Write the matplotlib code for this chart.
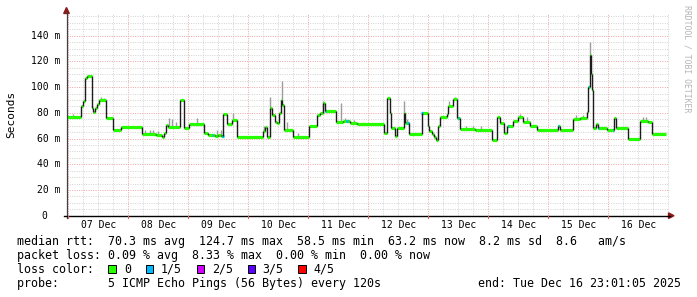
import matplotlib
matplotlib.use("Agg")
import numpy as np
import matplotlib.pyplot as plt
from matplotlib.patches import Polygon, Rectangle
from matplotlib.lines import Line2D

# ---------------- data (hours since 07 Dec 00:00, values in ms) ----------------
seg_hours = [-1.0, 5.2, 6.0, 6.8, 7.6, 9.4, 10.0, 10.8, 11.6, 12.4, 15.2, 18.0, 21.1,
             29.5, 35.2, 37.6, 38.4, 39.1, 40.0, 44.8, 46.4, 48.4, 54.4, 56.0, 58.8,
             60.0, 61.2, 62.0, 63.6, 65.5, 67.6, 77.8, 78.6, 79.5, 80.5, 81.6, 82.8,
             83.6, 84.4, 85.0, 85.6, 86.4, 89.8, 96.1, 99.6, 100.8, 102.0, 102.8,
             107.2, 110.0, 112.8, 115.6, 126.1, 127.4, 128.8, 129.2, 130.6, 131.4,
             134.1, 134.8, 136.1, 141.5, 143.7, 144.4, 145.4, 146.4, 147.0, 147.7,
             148.8, 151.5, 152.0, 154.0, 155.5, 156.6, 162.8, 169.5, 171.5, 172.8,
             174.2, 175.6, 178.0, 180.0, 182.0, 184.8, 187.5, 195.8, 196.6, 201.9,
             204.8, 207.4, 208.0, 208.6, 209.0, 209.4, 210.0, 211.2, 212.0, 215.5,
             218.2, 219.0, 223.7, 228.8, 232.0, 233.5]
seg_median = [77, 85, 89, 107, 109, 84, 81, 84, 87, 90, 76, 67, 69,
              63.5, 63, 61, 64, 70.5, 69, 90, 68.5, 71, 64.5, 63, 62,
              63, 62, 79, 71.5, 74.5, 61, 65.5, 69, 61, 84, 78, 73,
              72, 80, 90, 86, 67, 61.5, 70, 78.5, 80, 88, 81.5,
              73, 73.5, 72, 71.5, 64, 91.5, 80, 68, 62, 68,
              80, 72, 63.5, 80, 69.5, 66, 63.5, 61, 58.5, 69.5,
              77, 79, 85, 91, 76, 67.5, 67, 59, 76.5, 72,
              64, 70, 74, 76.5, 73, 69.5, 67, 70, 67, 75,
              76, 81, 100, 124.7, 110, 98, 68, 71, 68, 67,
              76, 68, 59.5, 73.5, 73, 63.2]
end_hour = 239.0

smoke_hours = [1.8, 13.2, 14.2, 30.5, 32.5, 34.0, 36.0, 40.4, 41.6, 43.0, 51.6, 59.5,
               61.0, 66.0, 78.2, 80.8, 85.3, 87.5, 92.0, 101.9, 109.2, 110.8, 114.4,
               128.2, 134.4, 135.6, 152.4, 154.6, 159.0, 162.0, 165.0, 180.8, 183.6,
               203.0, 206.0, 208.8, 229.8, 231.0]
smoke_top = [79, 92, 91.5, 67, 66.5, 67, 66, 76, 75, 73, 76, 66.5,
             67, 79.5, 70, 92.5, 104.5, 73, 64, 89, 87.5, 76, 74.5,
             92.5, 89, 75, 89, 92.5, 70, 70, 70, 79, 77,
             78, 78.5, 134.8, 77, 76.5]

loss1_hours = [57.6, 61.9, 102.8, 111.5, 135.9, 141.5, 156.0, 176.0, 196.0, 208.0, 212.0, 218.0]

day_labels = ["07 Dec", "08 Dec", "09 Dec", "10 Dec", "11 Dec",
              "12 Dec", "13 Dec", "14 Dec", "15 Dec", "16 Dec"]
y_ticks = [0, 20, 40, 60, 80, 100, 120, 140]
y_tick_labels = ["0", "20 m", "40 m", "60 m", "80 m", "100 m", "120 m", "140 m"]

legend_rtt = "median rtt:  70.3 ms avg  124.7 ms max  58.5 ms min  63.2 ms now  8.2 ms sd  8.6   am/s"
legend_loss = "packet loss: 0.09 % avg  8.33 % max  0.00 % min  0.00 % now"
loss_names = ["0", "1/5", "2/5", "3/5", "4/5"]
loss_colors = ["#26ff00", "#00b8ff", "#d200ff", "#5a00ff", "#ff0000"]
probe_text = "probe:       5 ICMP Echo Pings (56 Bytes) every 120s"
end_text = "end: Tue Dec 16 23:01:05 2025"

# ---------------- layout (pixels) ----------------
W, H = 697, 297
MONO = "DejaVu Sans Mono"
fig = plt.figure(figsize=(W / 100, H / 100), dpi=100)
fig.patch.set_facecolor("white")


def fx(x):
    return x / W


def fy(y):
    return 1 - y / H


AX_L, AX_R, AX_T, AX_B = 66.5, 669.0, 14.0, 215.7
X0, PXH = 68.3, 2.5          # pixel of 07 Dec 00:00, pixels per hour
PXMS = 1.2857                 # pixels per ms
ax = fig.add_axes([fx(AX_L), fy(AX_B), fx(AX_R) - fx(AX_L), fy(AX_T) - fy(AX_B)])
ax.set_xlim((AX_L - X0) / PXH, (AX_R - X0) / PXH)
ax.set_ylim(0, (AX_B - AX_T) / PXMS)
for s in ax.spines.values():
    s.set_visible(False)
ax.set_xticks([])
ax.set_yticks([])
ax.set_facecolor("white")

# grid
dot = (0, (1, 1.4))
MINOR_C = "#d2d2d2"
MAJOR_C = "#eda3a3"
for h in range(6, 241, 6):
    if h % 24 == 0 and h < 240:
        ax.axvline(h, color=MAJOR_C, lw=0.7, ls=dot, zorder=1)
    else:
        ax.axvline(h, color=MINOR_C, lw=0.7, ls=dot, zorder=1)
ax.axvline(0, color=MAJOR_C, lw=0.7, ls=dot, zorder=1)
for v in range(5, 156, 5):
    if v % 20 == 0:
        ax.axhline(v, color=MAJOR_C, lw=0.7, ls=dot, zorder=1)
    else:
        ax.axhline(v, color=MINOR_C, lw=0.7, ls=dot, zorder=1)

# data
starts = np.array(seg_hours)
vals = np.array(seg_median)
ends = np.append(starts[1:], end_hour)


def median_at(h):
    i = np.searchsorted(starts, h, side="right") - 1
    return vals[np.clip(i, 0, len(vals) - 1)]


sh = np.array(smoke_hours)
ax.vlines(sh, median_at(sh), smoke_top, color="#9c9c9c", lw=1.0, zorder=2)
ax.hlines(vals, starts, ends, color="#26ff00", lw=2.3, zorder=4)
ax.vlines(starts[1:], vals[:-1], vals[1:], color="#1c1c1c", lw=1.0, zorder=5)
lh = np.array(loss1_hours)
ax.hlines(median_at(lh), lh - 0.3, lh + 0.3, color="#00b8ff", lw=2.3, zorder=4.5)

# axes lines and arrows (figure pixel coords)
axis_col = "#404040"
arrow_col = "#8b1a1a"
fig.add_artist(Line2D([fx(AX_L), fx(AX_L)], [fy(AX_B + 2), fy(12)], color=axis_col, lw=0.9))
fig.add_artist(Line2D([fx(AX_L - 3), fx(670)], [fy(AX_B), fy(AX_B)], color="#000000", lw=1.0))
fig.add_artist(Polygon([[fx(AX_L - 2.8), fy(13.5)], [fx(AX_L + 2.8), fy(13.5)], [fx(AX_L), fy(7.5)]],
                       closed=True, color=arrow_col, transform=fig.transFigure))
fig.add_artist(Polygon([[fx(668.5), fy(AX_B - 2.8)], [fx(668.5), fy(AX_B + 2.8)], [fx(674), fy(AX_B)]],
                       closed=True, color=arrow_col, transform=fig.transFigure))
for k in range(0, 10):
    xp = X0 + PXH * 24 * k
    fig.add_artist(Line2D([fx(xp), fx(xp)], [fy(AX_B), fy(AX_B + 2.5)], color="#e06060", lw=0.8))

# tick labels
for k, lab in enumerate(day_labels):
    fig.text(fx(X0 + PXH * (12 + 24 * k)), fy(225), lab, family=MONO, fontsize=7,
             ha="center", va="center")
for v, lab in zip(y_ticks, y_tick_labels):
    xr = 47.0 if v == 0 else 60.5
    fig.text(fx(xr), fy(AX_B - v * PXMS), lab, family=MONO, fontsize=7,
             ha="right", va="center")

fig.text(fx(11), fy(114), "Seconds", family=MONO, fontsize=8, rotation=90,
         ha="center", va="center")
fig.text(fx(687), fy(5), "RRDTOOL / TOBI OETIKER", family=MONO, fontsize=5.9,
         rotation=270, ha="center", va="top", color="#b4b4b4")

# legend
LX = 16.7
LFS = 8.4
fig.text(fx(LX), fy(241.7), legend_rtt, family=MONO, fontsize=LFS, ha="left", va="center")
fig.text(fx(LX), fy(255.5), legend_loss, family=MONO, fontsize=LFS, ha="left", va="center")
fig.text(fx(LX), fy(269.3), "loss color:", family=MONO, fontsize=LFS, ha="left", va="center")
box_x = [108.3, 145.7, 196.7, 247.7, 298.3]
lab_x = [124.0, 160.7, 211.7, 262.3, 313.3]
for bx, lx, name, col in zip(box_x, lab_x, loss_names, loss_colors):
    fig.add_artist(Rectangle((fx(bx), fy(273.3)), fx(7.5), 8.3 / H, facecolor=col,
                             edgecolor="black", lw=0.7, transform=fig.transFigure))
    fig.text(fx(lx), fy(269.3), name, family=MONO, fontsize=LFS, ha="left", va="center")
fig.text(fx(LX), fy(283.3), probe_text, family=MONO, fontsize=LFS, ha="left", va="center")
fig.text(fx(681), fy(283.3), end_text, family=MONO, fontsize=LFS, ha="right", va="center")

fig.savefig("out.png", dpi=100, facecolor="white")
